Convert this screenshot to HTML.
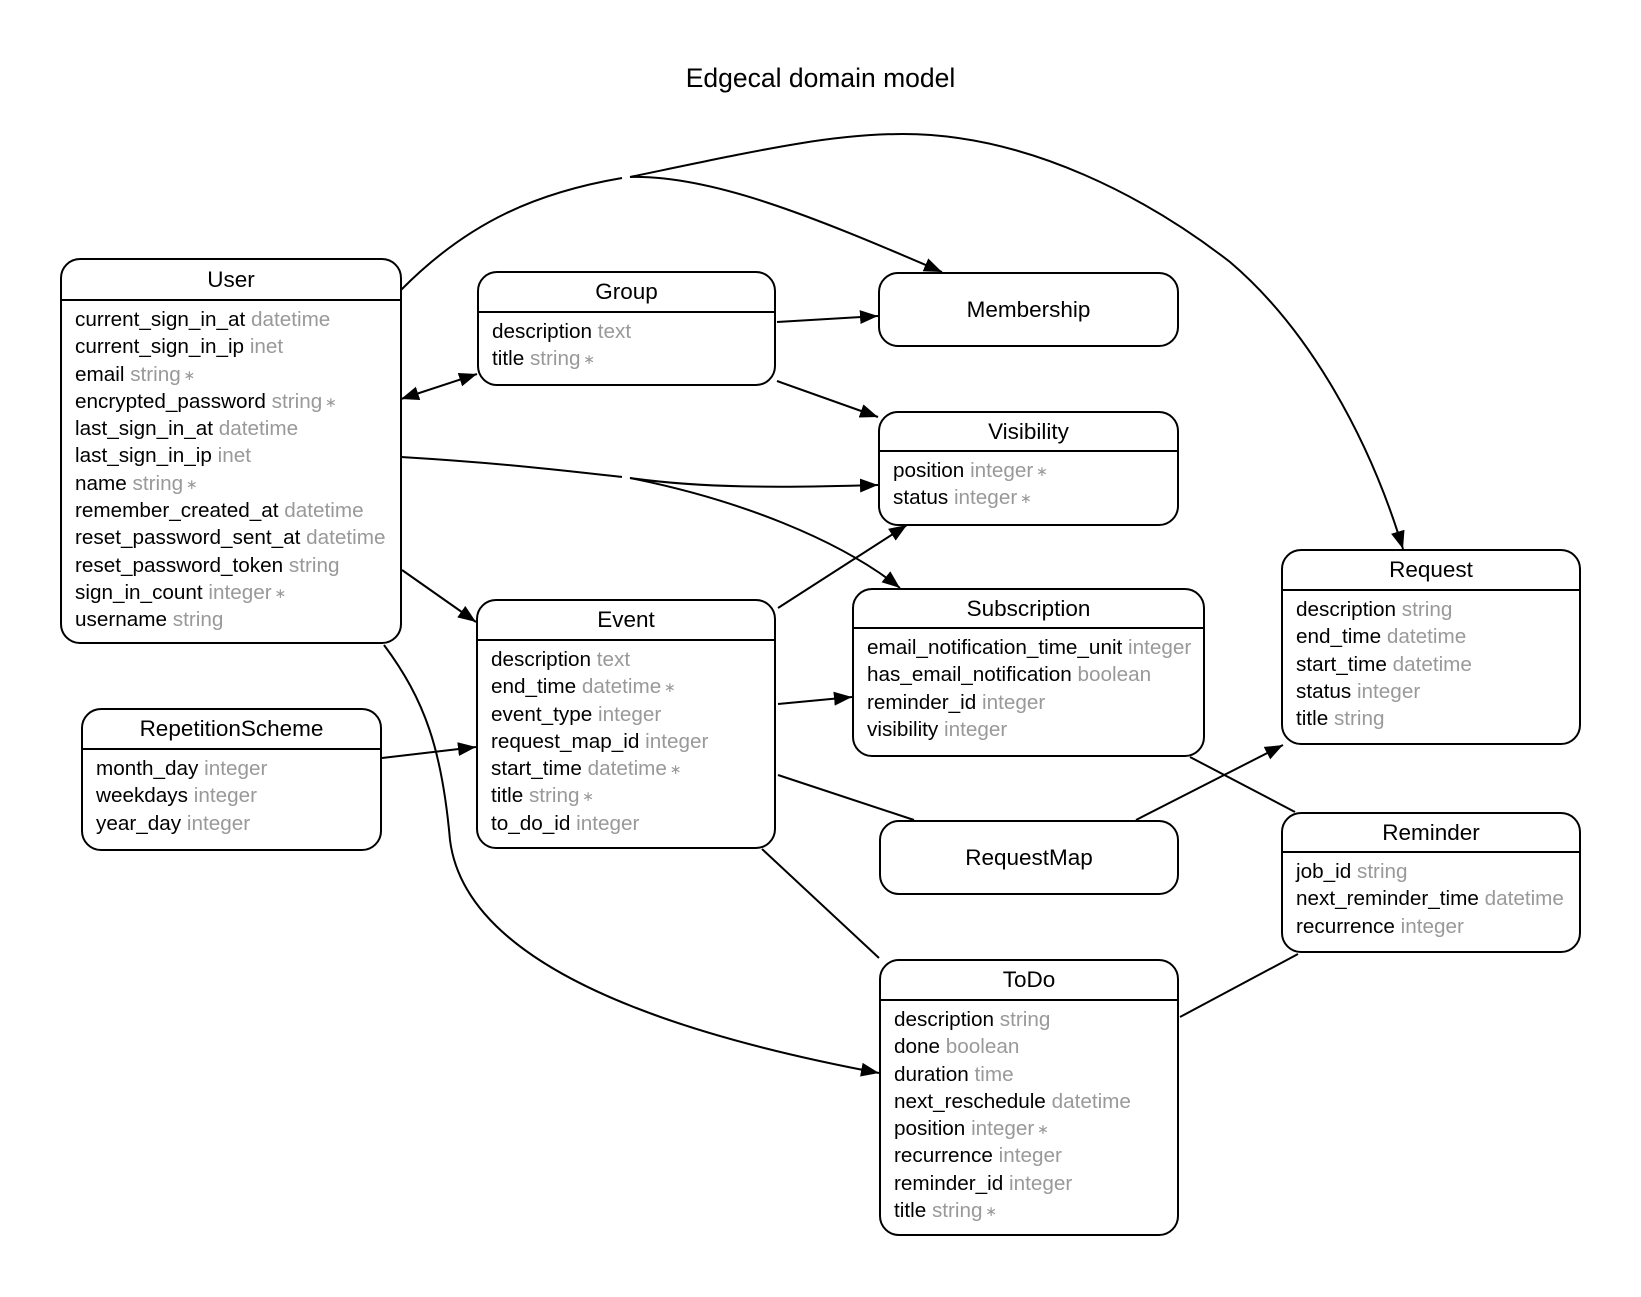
<!DOCTYPE html>
<html><head><meta charset="utf-8"><style>
body{margin:0;background:#fff;width:1641px;height:1297px;position:relative;overflow:hidden;font-family:"Liberation Sans",Arial,sans-serif;}
.b{position:absolute;border:2px solid #000;border-radius:20px;box-sizing:border-box;background:#fff;}
.h{position:absolute;left:0;right:0;top:0;border-bottom:2px solid #000;text-align:center;font-size:22.5px;box-sizing:border-box;}
.r{position:absolute;left:13px;top:0;font-size:20.7px;white-space:nowrap;}
.r div{height:27.3px;line-height:27.3px;}
.t{color:#999}
.s{color:#999;font-size:14px;line-height:0;position:relative;top:-1px;margin-left:-3px}
.title{position:absolute;left:0;width:1641px;top:63px;text-align:center;font-size:26.5px;}
svg{position:absolute;left:0;top:0}
</style></head><body>
<div class="title">Edgecal domain model</div>

<div class="b" style="left:60px;top:258px;width:342px;height:386px"><div class="h" style="height:41px;line-height:39px">User</div><div class="r" style="top:46px"><div>current_sign_in_at <span class="t">datetime</span></div><div>current_sign_in_ip <span class="t">inet</span></div><div>email <span class="t">string</span> <span class="s">∗</span></div><div>encrypted_password <span class="t">string</span> <span class="s">∗</span></div><div>last_sign_in_at <span class="t">datetime</span></div><div>last_sign_in_ip <span class="t">inet</span></div><div>name <span class="t">string</span> <span class="s">∗</span></div><div>remember_created_at <span class="t">datetime</span></div><div>reset_password_sent_at <span class="t">datetime</span></div><div>reset_password_token <span class="t">string</span></div><div>sign_in_count <span class="t">integer</span> <span class="s">∗</span></div><div>username <span class="t">string</span></div></div></div>

<div class="b" style="left:477px;top:271px;width:299px;height:115px"><div class="h" style="height:40px;line-height:38px">Group</div><div class="r" style="top:45px"><div>description <span class="t">text</span></div><div>title <span class="t">string</span> <span class="s">∗</span></div></div></div>

<div class="b" style="left:878px;top:272px;width:301px;height:75px;text-align:center;font-size:22.5px;line-height:71px">Membership</div>

<div class="b" style="left:878px;top:411px;width:301px;height:115px"><div class="h" style="height:39px;line-height:37px">Visibility</div><div class="r" style="top:44px"><div>position <span class="t">integer</span> <span class="s">∗</span></div><div>status <span class="t">integer</span> <span class="s">∗</span></div></div></div>

<div class="b" style="left:476px;top:599px;width:300px;height:250px"><div class="h" style="height:40px;line-height:38px">Event</div><div class="r" style="top:45px"><div>description <span class="t">text</span></div><div>end_time <span class="t">datetime</span> <span class="s">∗</span></div><div>event_type <span class="t">integer</span></div><div>request_map_id <span class="t">integer</span></div><div>start_time <span class="t">datetime</span> <span class="s">∗</span></div><div>title <span class="t">string</span> <span class="s">∗</span></div><div>to_do_id <span class="t">integer</span></div></div></div>

<div class="b" style="left:852px;top:588px;width:353px;height:169px"><div class="h" style="height:39px;line-height:37px">Subscription</div><div class="r" style="top:44px"><div>email_notification_time_unit <span class="t">integer</span></div><div>has_email_notification <span class="t">boolean</span></div><div>reminder_id <span class="t">integer</span></div><div>visibility <span class="t">integer</span></div></div></div>

<div class="b" style="left:81px;top:708px;width:301px;height:143px"><div class="h" style="height:40px;line-height:38px">RepetitionScheme</div><div class="r" style="top:45px"><div>month_day <span class="t">integer</span></div><div>weekdays <span class="t">integer</span></div><div>year_day <span class="t">integer</span></div></div></div>

<div class="b" style="left:1281px;top:549px;width:300px;height:196px"><div class="h" style="height:40px;line-height:38px">Request</div><div class="r" style="top:45px"><div>description <span class="t">string</span></div><div>end_time <span class="t">datetime</span></div><div>start_time <span class="t">datetime</span></div><div>status <span class="t">integer</span></div><div>title <span class="t">string</span></div></div></div>

<div class="b" style="left:879px;top:820px;width:300px;height:75px;text-align:center;font-size:22.5px;line-height:71px">RequestMap</div>

<div class="b" style="left:1281px;top:812px;width:300px;height:141px"><div class="h" style="height:39px;line-height:37px">Reminder</div><div class="r" style="top:44px"><div>job_id <span class="t">string</span></div><div>next_reminder_time <span class="t">datetime</span></div><div>recurrence <span class="t">integer</span></div></div></div>

<div class="b" style="left:879px;top:959px;width:300px;height:277px"><div class="h" style="height:40px;line-height:38px">ToDo</div><div class="r" style="top:45px"><div>description <span class="t">string</span></div><div>done <span class="t">boolean</span></div><div>duration <span class="t">time</span></div><div>next_reschedule <span class="t">datetime</span></div><div>position <span class="t">integer</span> <span class="s">∗</span></div><div>recurrence <span class="t">integer</span></div><div>reminder_id <span class="t">integer</span></div><div>title <span class="t">string</span> <span class="s">∗</span></div></div></div>

<svg width="1641" height="1297" viewBox="0 0 1641 1297">
<defs>
<marker id="a" markerUnits="userSpaceOnUse" markerWidth="20" markerHeight="16" refX="18" refY="7" orient="auto-start-reverse"><path d="M0,0 L18,7 L0,14 Z" fill="#000"/></marker>
</defs>
<g fill="none" stroke="#000" stroke-width="2">
<path d="M401,290 C470,220 540,192 622,178"/>
<path d="M630,177 C760,150 830,134 903,134 C1030,134 1150,200 1230,262 C1310,330 1370,440 1403,549" marker-end="url(#a)"/>
<path d="M630,177 C710,175 810,215 942,272" marker-end="url(#a)"/>
<path d="M777,322 L878,316" marker-end="url(#a)"/>
<path d="M777,381 L878,417" marker-end="url(#a)"/>
<path d="M401,399 L477,374" marker-start="url(#a)" marker-end="url(#a)"/>
<path d="M401,457 C500,463 560,470 622,477"/>
<path d="M630,478 C700,488 780,488 878,485" marker-end="url(#a)"/>
<path d="M630,478 C740,500 840,540 900,588" marker-end="url(#a)"/>
<path d="M402,570 L476,622" marker-end="url(#a)"/>
<path d="M778,608 L907,525" marker-end="url(#a)"/>
<path d="M778,704 L852,697" marker-end="url(#a)"/>
<path d="M382,758 L476,747" marker-end="url(#a)"/>
<path d="M778,775 L914,820"/>
<path d="M1136,820 L1283,745" marker-end="url(#a)"/>
<path d="M1190,757 L1295,812"/>
<path d="M762,849 L879,958"/>
<path d="M1180,1017 L1298,954"/>
<path d="M384,645 C425,700 442,750 450,840 C465,960 650,1030 879,1073" marker-end="url(#a)"/>
</g>
</svg>
</body></html>
